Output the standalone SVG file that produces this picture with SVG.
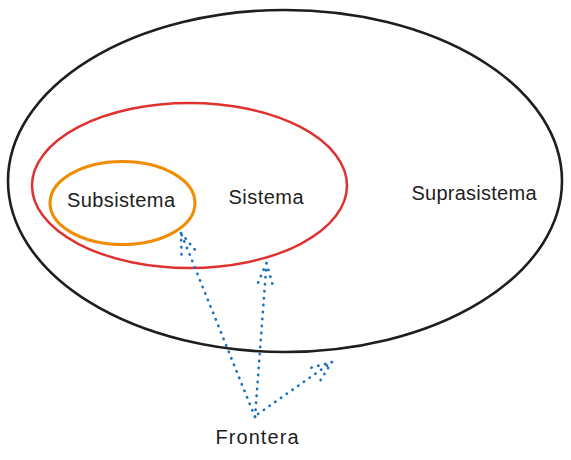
<svg xmlns="http://www.w3.org/2000/svg" width="571" height="460" viewBox="0 0 571 460">
<style>
.lbl{font-family:"Liberation Sans","DejaVu Sans",sans-serif;font-size:20px;fill:#1e1e1e;text-anchor:middle}
.dot{fill:none;stroke:#1971c2;stroke-width:2.6;stroke-linecap:round;stroke-dasharray:0.4 6.6}
</style>
<rect width="571" height="460" fill="#ffffff"/>
<g id="suprasistema">
<ellipse cx="285" cy="181" rx="277" ry="171" fill="none" stroke="#1e1e1e" stroke-width="2.6"/>
<text class="lbl" x="474" y="200" textLength="125" lengthAdjust="spacing">Suprasistema</text>
</g>
<g id="sistema">
<ellipse cx="189.5" cy="185.5" rx="157.5" ry="82.5" fill="none" stroke="#e03131" stroke-width="2.5"/>
<text class="lbl" x="266" y="204" textLength="75" lengthAdjust="spacing">Sistema</text>
</g>
<g id="subsistema">
<ellipse cx="122.5" cy="203" rx="72.5" ry="41.5" fill="none" stroke="#f08c00" stroke-width="3"/>
<text class="lbl" x="121" y="207" textLength="108" lengthAdjust="spacing">Subsistema</text>
</g>
<g id="frontera">
<text class="lbl" x="257" y="444" textLength="83" lengthAdjust="spacing">Frontera</text>
</g>
<g id="connectors">
<path class="dot" d="M255 417 L181 233 M181 233 L181.5 256 M181 233 L196 251"/>
<path class="dot" d="M255 417 L266.5 263 M266.5 263 L257 285 M266.5 263 L273 286"/>
<path class="dot" d="M258 414 L332 362 M332 362 L310 368 M332 362 L320 381"/>
</g>
</svg>
